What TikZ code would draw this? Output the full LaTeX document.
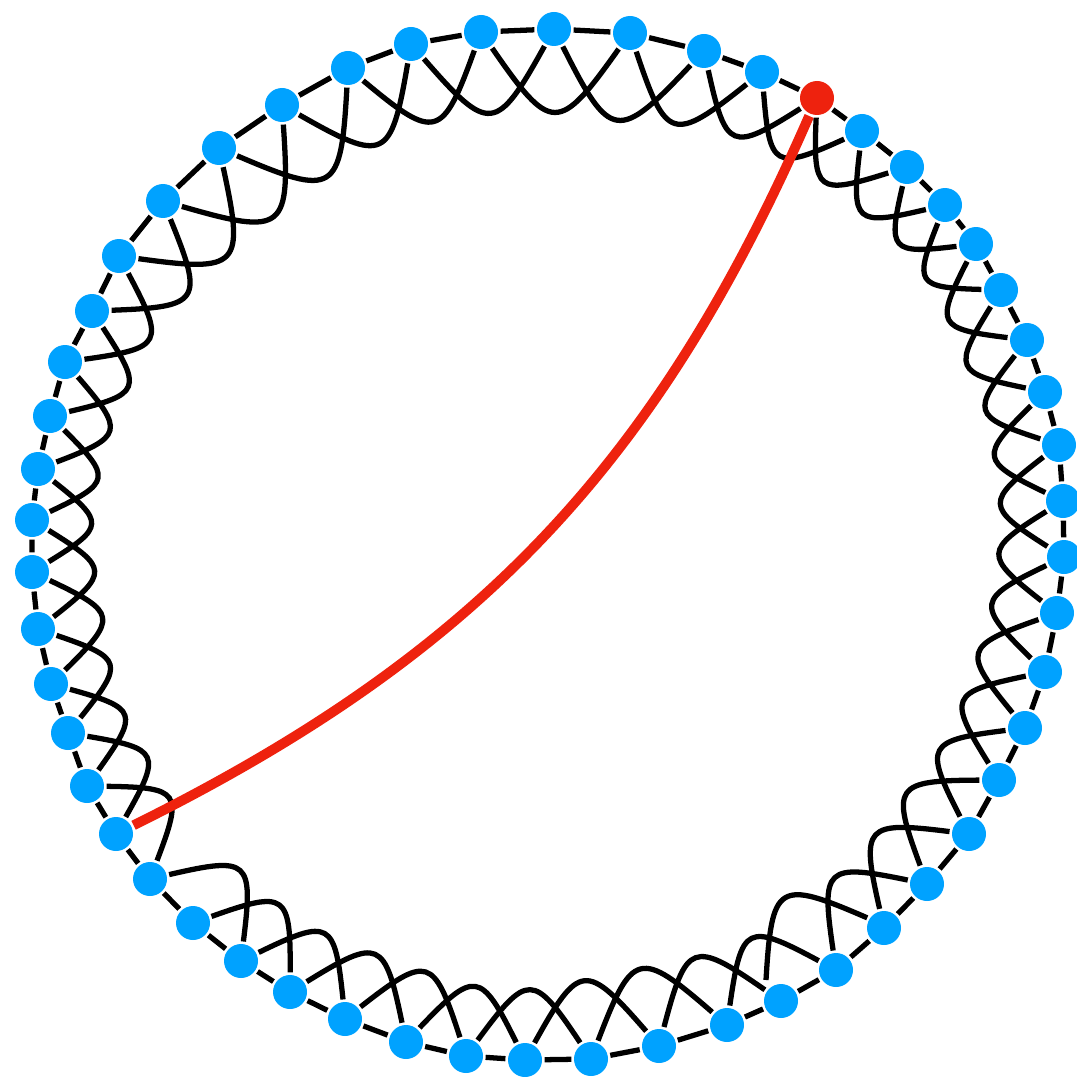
\documentclass[tikz,border=0pt]{standalone}
\usepackage{tikz}
\definecolor{dotblue}{RGB}{0,162,255}
\definecolor{wirered}{RGB}{238,34,14}

\begin{document}
\begin{tikzpicture}[
  vert/.style={circle,fill=dotblue,inner sep=0pt,minimum size=3.4mm},
  hot/.style={circle,fill=wirered,inner sep=0pt,minimum size=3.4mm},
  hop/.style={bend right=55,looseness=2.1},
  rewired/.style={wirered,line width=2.8pt},
  line width=1.5pt]
  \useasboundingbox (0,0) rectangle (10.76,-10.77);
  \node[vert] (v1)  at (4.81,-0.32)  {};
  \node[vert] (v2)  at (5.54,-0.29)  {};
  \node[vert] (v3)  at (6.30,-0.33)  {};
  \node[vert] (v4)  at (7.04,-0.51)  {};
  \node[vert] (v5)  at (7.62,-0.72)  {};
  \node[hot]  (v6)  at (8.17,-0.98)  {};
  \node[vert] (v7)  at (8.62,-1.31)  {};
  \node[vert] (v8)  at (9.07,-1.67)  {};
  \node[vert] (v9)  at (9.45,-2.05)  {};
  \node[vert] (v10) at (9.76,-2.44)  {};
  \node[vert] (v11) at (10.01,-2.90) {};
  \node[vert] (v12) at (10.27,-3.40) {};
  \node[vert] (v13) at (10.45,-3.92) {};
  \node[vert] (v14) at (10.59,-4.45) {};
  \node[vert] (v15) at (10.63,-5.01) {};
  \node[vert] (v16) at (10.64,-5.57) {};
  \node[vert] (v17) at (10.57,-6.13) {};
  \node[vert] (v18) at (10.45,-6.72) {};
  \node[vert] (v19) at (10.25,-7.28) {};
  \node[vert] (v20) at (9.99,-7.80)  {};
  \node[vert] (v21) at (9.69,-8.34)  {};
  \node[vert] (v22) at (9.27,-8.84)  {};
  \node[vert] (v23) at (8.84,-9.28)  {};
  \node[vert] (v24) at (8.36,-9.70)  {};
  \node[vert] (v25) at (7.81,-10.01) {};
  \node[vert] (v26) at (7.27,-10.25) {};
  \node[vert] (v27) at (6.59,-10.46) {};
  \node[vert] (v28) at (5.91,-10.59) {};
  \node[vert] (v29) at (5.25,-10.60) {};
  \node[vert] (v30) at (4.66,-10.56) {};
  \node[vert] (v31) at (4.06,-10.42) {};
  \node[vert] (v32) at (3.45,-10.19) {};
  \node[vert] (v33) at (2.90,-9.92)  {};
  \node[vert] (v34) at (2.41,-9.61)  {};
  \node[vert] (v35) at (1.93,-9.23)  {};
  \node[vert] (v36) at (1.50,-8.79)  {};
  \node[vert] (v37) at (1.16,-8.34)  {};
  \node[vert] (v38) at (0.87,-7.86)  {};
  \node[vert] (v39) at (0.68,-7.33)  {};
  \node[vert] (v40) at (0.51,-6.84)  {};
  \node[vert] (v41) at (0.38,-6.29)  {};
  \node[vert] (v42) at (0.32,-5.72)  {};
  \node[vert] (v43) at (0.32,-5.20)  {};
  \node[vert] (v44) at (0.38,-4.69)  {};
  \node[vert] (v45) at (0.50,-4.16)  {};
  \node[vert] (v46) at (0.65,-3.62)  {};
  \node[vert] (v47) at (0.92,-3.11)  {};
  \node[vert] (v48) at (1.19,-2.56)  {};
  \node[vert] (v49) at (1.63,-2.01)  {};
  \node[vert] (v50) at (2.19,-1.48)  {};
  \node[vert] (v51) at (2.82,-1.05)  {};
  \node[vert] (v52) at (3.48,-0.68)  {};
  \node[vert] (v53) at (4.11,-0.44)  {};
  \coordinate (loose) at (7.66,-9.80);
  % ring
  \draw (v1) -- (v2) -- (v3) -- (v4) -- (v5) -- (v6) -- (v7) -- (v8) -- (v9) -- (v10) -- (v11);
  \draw (v11) -- (v12) -- (v13) -- (v14) -- (v15) -- (v16) -- (v17) -- (v18) -- (v19) -- (v20) -- (v21);
  \draw (v21) -- (v22) -- (v23) -- (v24) -- (v25) -- (v26) -- (v27) -- (v28) -- (v29) -- (v30) -- (v31);
  \draw (v31) -- (v32) -- (v33) -- (v34) -- (v35) -- (v36) -- (v37) -- (v38) -- (v39) -- (v40) -- (v41);
  \draw (v41) -- (v42) -- (v43) -- (v44) -- (v45) -- (v46) -- (v47) -- (v48) -- (v49) -- (v50) -- (v51);
  \draw (v51) -- (v52) -- (v53) -- (v1);
  % second neighbours
  \draw (v1) to[hop] (v3);
  \draw (v2) to[hop] (v4);
  \draw (v3) to[hop] (v5);
  \draw (v4) to[hop] (v6);
  \draw (v5) to[hop] (v7);
  \draw (v6) to[hop] (v8);
  \draw (v7) to[hop] (v9);
  \draw (v8) to[hop] (v10);
  \draw (v9) to[hop] (v11);
  \draw (v10) to[hop] (v12);
  \draw (v11) to[hop] (v13);
  \draw (v12) to[hop] (v14);
  \draw (v13) to[hop] (v15);
  \draw (v14) to[hop] (v16);
  \draw (v15) to[hop] (v17);
  \draw (v16) to[hop] (v18);
  \draw (v17) to[hop] (v19);
  \draw (v18) to[hop] (v20);
  \draw (v19) to[hop] (v21);
  \draw (v20) to[hop] (v22);
  \draw (v21) to[hop] (v23);
  \draw (v22) to[hop] (v24);
  \draw (v23) to[hop] (loose);
  \draw (v24) to[hop] (v26);
  \draw (v25) to[hop] (v27);
  \draw (v26) to[hop] (v28);
  \draw (v27) to[hop] (v29);
  \draw (v28) to[hop] (v30);
  \draw (v29) to[hop] (v31);
  \draw (v30) to[hop] (v32);
  \draw (v31) to[hop] (v33);
  \draw (v32) to[hop] (v34);
  \draw (v33) to[hop] (v35);
  \draw (v34) to[hop] (v36);
  \draw (v36) to[hop] (v38);
  \draw (v37) to[hop] (v39);
  \draw (v38) to[hop] (v40);
  \draw (v39) to[hop] (v41);
  \draw (v40) to[hop] (v42);
  \draw (v41) to[hop] (v43);
  \draw (v42) to[hop] (v44);
  \draw (v43) to[hop] (v45);
  \draw (v44) to[hop] (v46);
  \draw (v45) to[hop] (v47);
  \draw (v46) to[hop] (v48);
  \draw (v47) to[hop] (v49);
  \draw (v48) to[hop] (v50);
  \draw (v49) to[hop] (v51);
  \draw (v50) to[hop] (v52);
  \draw (v51) to[hop] (v53);
  \draw (v52) to[hop] (v1);
  \draw (v53) to[hop] (v2);
  % rewired edge
  \draw[rewired] (v6) to[bend left=20] (v37);
\end{tikzpicture}
\end{document}
